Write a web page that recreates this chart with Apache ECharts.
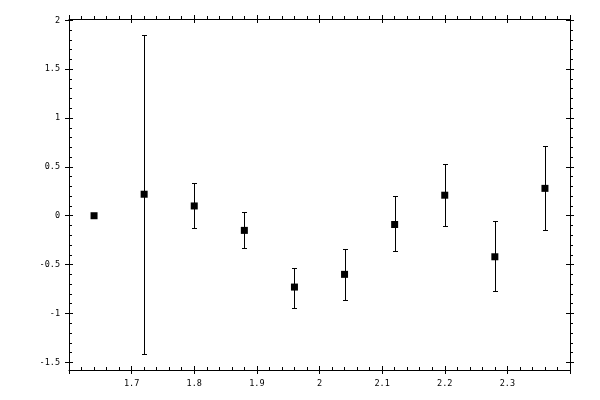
<!DOCTYPE html>
<html>
<head>
<meta charset="utf-8">
<script src="https://cdn.jsdelivr.net/npm/echarts@6/dist/echarts.min.js"></script>
<style>
  html, body { margin: 0; padding: 0; background: #fff; }
  #chart { width: 600px; height: 400px; }
</style>
</head>
<body>
<div id="chart"></div>
<script>
// 数据
const xVals  = [1.64, 1.72, 1.80, 1.88, 1.96, 2.04, 2.12, 2.20, 2.28, 2.36];
const yVals  = [0.00, 0.22, 0.10, -0.15, -0.73, -0.60, -0.09, 0.21, -0.42, 0.28];
const yLow   = [null, -1.41, -0.13, -0.33, -0.94, -0.86, -0.36, -0.11, -0.77, -0.15];
const yHigh  = [null, 1.85, 0.33, 0.035, -0.53, -0.34, 0.20, 0.53, -0.05, 0.71];

// 坐标范围
const xRange = [1.6, 2.4];
const yTickRange = [-1.5, 2];
const yFrameRange = [-1.58, 2.013];

const black = '#000';
const font = { fontFamily: 'DejaVu Sans Mono', fontSize: 8.5, color: black };
const lineStyle = { color: black, width: 1 };

// 刻度轴的公共部分
function xTickAxis(pos, inside, withMinor, withLine, withLabel) {
    return {
        type: 'value', gridIndex: 0, position: pos,
        min: xRange[0], max: xRange[1], interval: 0.1,
        axisLine: { show: withLine, onZero: false, lineStyle: lineStyle },
        axisTick: { show: true, inside: inside, length: 4, lineStyle: lineStyle },
        minorTick: { show: withMinor, splitNumber: 5, length: 3, lineStyle: lineStyle },
        axisLabel: Object.assign({ show: withLabel, margin: 9, showMinLabel: false, showMaxLabel: false }, font),
        splitLine: { show: false }
    };
}

function yTickAxis(pos, inside, withMinor, withLabel) {
    return {
        type: 'value', gridIndex: 1, position: pos,
        min: yTickRange[0], max: yTickRange[1], interval: 0.5,
        axisLine: { show: false, onZero: false },
        axisTick: { show: true, inside: inside, length: 4, lineStyle: lineStyle },
        minorTick: { show: withMinor, splitNumber: 5, length: 3, lineStyle: lineStyle },
        axisLabel: Object.assign({ show: withLabel, margin: 9 }, font),
        splitLine: { show: false }
    };
}

function yFrameAxis(pos) {
    return {
        type: 'value', gridIndex: 0, position: pos,
        min: yFrameRange[0], max: yFrameRange[1],
        axisLine: { show: true, onZero: false, lineStyle: lineStyle },
        axisTick: { show: false }, axisLabel: { show: false }, splitLine: { show: false }
    };
}

const chart = echarts.init(document.getElementById('chart'));

const pointData = xVals.map((x, i) => [x, yVals[i]]);
const barData = [];
xVals.forEach((x, i) => {
    if (yLow[i] !== null) barData.push([x, yLow[i], yHigh[i]]);
});

chart.setOption({
    animation: false,
    backgroundColor: '#fff',
    grid: [
        { left: 69, right: 30, top: 19, bottom: 30 },
        { left: 69, right: 30, top: 20.3, bottom: 37.7 }
    ],
    xAxis: [
        xTickAxis('bottom', true, true, true, true),
        xTickAxis('bottom', false, false, false, false),
        xTickAxis('top', false, true, true, false),
        xTickAxis('top', true, false, false, false),
        { type: 'value', gridIndex: 1, min: xRange[0], max: xRange[1], show: false }
    ],
    yAxis: [
        yFrameAxis('left'),
        yFrameAxis('right'),
        yTickAxis('left', true, true, true),
        yTickAxis('left', false, false, false),
        yTickAxis('right', false, true, false),
        yTickAxis('right', true, false, false)
    ],
    series: [
        {
            type: 'custom',
            xAxisIndex: 4, yAxisIndex: 2,
            clip: false,
            data: barData,
            renderItem: function (params, api) {
                const lo = api.coord([api.value(0), api.value(1)]);
                const hi = api.coord([api.value(0), api.value(2)]);
                const x = Math.round(lo[0]) + 0.5;
                const y1 = Math.round(lo[1]) + 0.5;
                const y2 = Math.round(hi[1]) + 0.5;
                const style = { stroke: black, lineWidth: 1 };
                return {
                    type: 'group',
                    children: [
                        { type: 'line', shape: { x1: x, y1: y1, x2: x, y2: y2 }, style: style },
                        { type: 'line', shape: { x1: x - 2.5, y1: y1, x2: x + 2.5, y2: y1 }, style: style },
                        { type: 'line', shape: { x1: x - 2.5, y1: y2, x2: x + 2.5, y2: y2 }, style: style }
                    ]
                };
            },
            z: 3
        },
        {
            type: 'scatter',
            xAxisIndex: 4, yAxisIndex: 2,
            symbol: 'rect', symbolSize: 7,
            itemStyle: { color: black, opacity: 1 },
            data: pointData,
            z: 4
        }
    ]
});
</script>
</body>
</html>
